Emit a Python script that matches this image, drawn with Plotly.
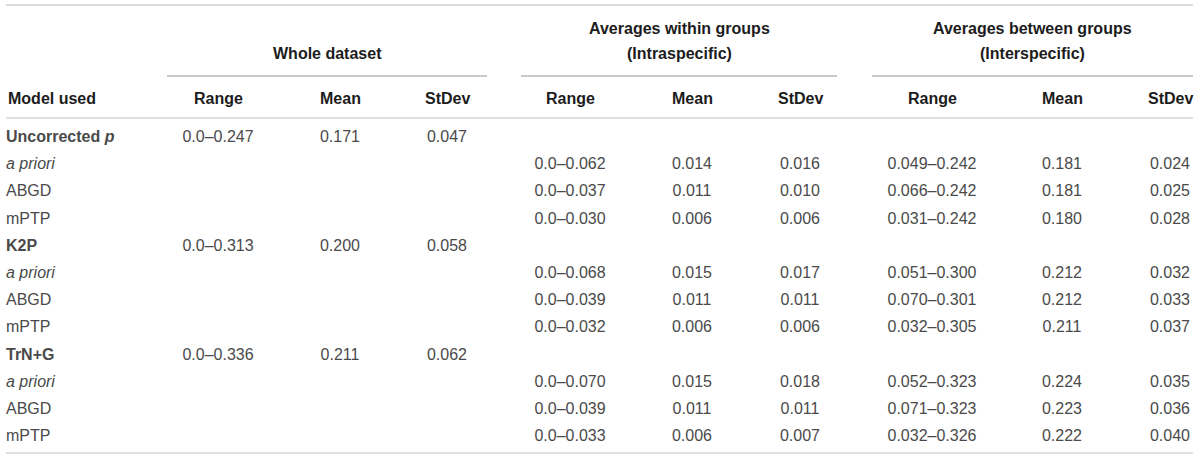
import plotly.graph_objects as go

# ---------------- data ----------------
model_names = ["<b>Uncorrected <i>p</i></b>", "<b>K2P</b>", "<b>TrN+G</b>"]
methods = ["<i>a priori</i>", "ABGD", "mPTP"]

whole_range = ["0.0–0.247", "0.0–0.313", "0.0–0.336"]
whole_mean = [0.171, 0.200, 0.211]
whole_sd = [0.047, 0.058, 0.062]

within_range = [["0.0–0.062", "0.0–0.037", "0.0–0.030"],
                ["0.0–0.068", "0.0–0.039", "0.0–0.032"],
                ["0.0–0.070", "0.0–0.039", "0.0–0.033"]]
within_mean = [[0.014, 0.011, 0.006], [0.015, 0.011, 0.006], [0.015, 0.011, 0.006]]
within_sd = [[0.016, 0.010, 0.006], [0.017, 0.011, 0.006], [0.018, 0.011, 0.007]]

between_range = [["0.049–0.242", "0.066–0.242", "0.031–0.242"],
                 ["0.051–0.300", "0.070–0.301", "0.032–0.305"],
                 ["0.052–0.323", "0.071–0.323", "0.032–0.326"]]
between_mean = [[0.181, 0.181, 0.180], [0.212, 0.212, 0.211], [0.224, 0.223, 0.222]]
between_sd = [[0.024, 0.025, 0.028], [0.032, 0.033, 0.037], [0.035, 0.036, 0.040]]

group_titles = [["Whole dataset"],
                ["Averages within groups", "(Intraspecific)"],
                ["Averages between groups", "(Interspecific)"]]
sub_headers = ["Range", "Mean", "StDev"]
first_header = "Model used"

# ---------------- layout geometry ----------------
W, H = 1200, 459
ROW0, ROWH = 138, 27.2
LEFT, RIGHT = 6, 1193
group_spans = [(167, 487), (521, 837), (872, 1193)]
col_x = [[218, 340, 447], [570, 692, 800], [932, 1062, 1170]]

FONT = "Liberation Sans, Arial, Helvetica, sans-serif"
BODY = dict(family=FONT, size=16, color="#4a4a4a")
HEAD = dict(family=FONT, size=16, color="#1c1c1c")


def fmt(v):
    return f"{v:.3f}"


rows_label = []
cells = {(g, c): ([], []) for g in range(3) for c in range(3)}
r = 0
for m in range(3):
    rows_label.append((r, model_names[m]))
    for c, t in enumerate([whole_range[m], fmt(whole_mean[m]), fmt(whole_sd[m])]):
        cells[(0, c)][0].append(r)
        cells[(0, c)][1].append(t)
    r += 1
    for k in range(3):
        rows_label.append((r, methods[k]))
        for g, src in ((1, (within_range, within_mean, within_sd)),
                       (2, (between_range, between_mean, between_sd))):
            vals = [src[0][m][k], fmt(src[1][m][k]), fmt(src[2][m][k])]
            for c, t in enumerate(vals):
                cells[(g, c)][0].append(r)
                cells[(g, c)][1].append(t)
        r += 1


def ypix(row):
    return ROW0 + ROWH * row


fig = go.Figure()

fig.add_trace(go.Scatter(
    x=[LEFT] * len(rows_label), y=[ypix(rr) for rr, _ in rows_label],
    text=[t for _, t in rows_label], mode="text", textposition="middle right",
    textfont=BODY, hoverinfo="skip", showlegend=False))

for (g, c), (rr, tt) in cells.items():
    fig.add_trace(go.Scatter(
        x=[col_x[g][c]] * len(rr), y=[ypix(v) for v in rr], text=tt,
        mode="text", textposition="middle center", textfont=BODY,
        hoverinfo="skip", showlegend=False))

HEAD_Y = 98
ann = [dict(x=LEFT, y=HEAD_Y, text=f"<b>{first_header}</b>", showarrow=False,
            xanchor="left", yanchor="middle", font=HEAD)]
for g in range(3):
    for c in range(3):
        ann.append(dict(x=col_x[g][c], y=HEAD_Y, text=f"<b>{sub_headers[c]}</b>",
                        showarrow=False, xanchor="center", yanchor="middle", font=HEAD))
for g in range(3):
    x0, x1 = group_spans[g]
    lines = group_titles[g]
    ys = [53] if len(lines) == 1 else [28, 53]
    for t, yy in zip(lines, ys):
        ann.append(dict(x=(x0 + x1) / 2, y=yy, text=f"<b>{t}</b>", showarrow=False,
                        xanchor="center", yanchor="middle", font=HEAD))

shapes = []


def hline(y, x0, x1, color, w):
    shapes.append(dict(type="line", xref="x", yref="y", x0=x0, x1=x1, y0=y, y1=y,
                       line=dict(color=color, width=w)))


hline(5, LEFT, RIGHT, "#dcdcdc", 2)
for x0, x1 in group_spans:
    hline(76, x0, x1, "#c9c9c9", 2)
hline(118, LEFT, RIGHT, "#d6d6d6", 1.5)
hline(453, LEFT, RIGHT, "#d6d6d6", 1.5)

fig.update_layout(
    width=W, height=H, margin=dict(l=0, r=0, t=0, b=0),
    paper_bgcolor="white", plot_bgcolor="white",
    xaxis=dict(range=[0, W], visible=False, fixedrange=True),
    yaxis=dict(range=[H, 0], visible=False, fixedrange=True),
    annotations=ann, shapes=shapes, showlegend=False,
)

fig.write_html("out.html", config={"displayModeBar": False},
               post_script="document.body.style.margin='0';document.body.style.overflow='hidden';")
